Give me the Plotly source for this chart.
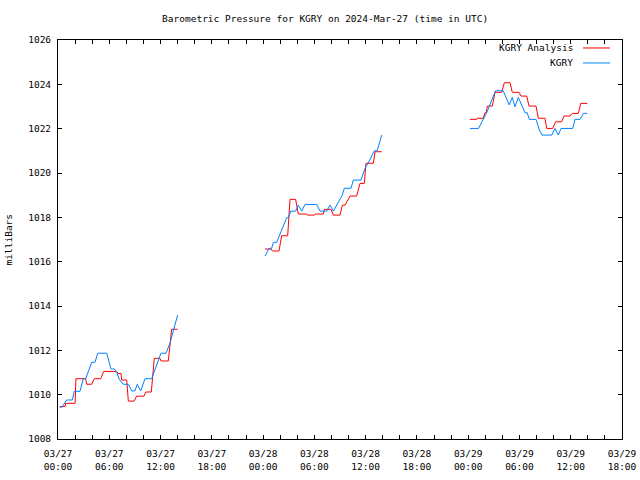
import pandas as pd
import plotly.graph_objects as go

BASE = pd.Timestamp("2024-03-27 00:00")

# KGRY Analysis (red), hours after 03/27 00:00 UTC; None = gap
analysis_hours = [0.2, 0.82, 0.9, 2.0, 2.1, 3.24, 3.35, 3.94, 4.25, 5.0, 5.35, 6.87, 7.0, 7.37, 7.45, 8.04,
                  8.23, 8.9, 9.2, 10.06, 10.26, 10.92, 11.27, 11.94, 12.05, 12.91, 13.3, 14.0, None,
                  24.22, 24.93, 25.1, 25.86, 26.17, 26.88, 27.15, 27.81, 28.12, 29.1, 29.2, 30.0, 30.1, 31.05,
                  31.17, 31.95, 32.22, 33.0, 33.28, 33.6, 34.17, 34.95, 35.34, 35.85, 36.04, 36.9, 37.1, 37.88, None,
                  48.2, 49.0, 49.05, 49.77, 49.97, 50.1, 50.25, 50.83, 51.14, 51.92, 52.23, 52.9, 53.16, 53.95,
                  54.18, 54.85, 55.12, 55.94, 56.21, 56.99, 57.19, 57.89, 58.24, 58.94, 59.22, 59.92, 60.19,
                  60.89, 61.17, 61.94]
analysis_mb = [1009.46, 1009.46, 1009.61, 1009.61, 1010.72, 1010.72, 1010.47, 1010.47, 1010.72, 1010.72,
               1011.05, 1011.05, 1010.96, 1010.96, 1010.66, 1010.66, 1009.71, 1009.71, 1009.93, 1009.93,
               1010.12, 1010.12, 1011.64, 1011.64, 1011.52, 1011.52, 1012.95, 1012.95, None,
               1016.57, 1016.57, 1016.48, 1016.48, 1017.17, 1017.17, 1018.81, 1018.81, 1018.15, 1018.15,
               1018.1, 1018.1, 1018.15, 1018.15, 1018.36, 1018.36, 1018.1, 1018.1, 1018.55, 1018.55,
               1018.96, 1018.96, 1019.53, 1019.53, 1020.44, 1020.44, 1020.96, 1020.96, None,
               1022.42, 1022.42, 1022.47, 1022.47, 1022.72, 1022.72, 1023.02, 1023.02, 1023.64, 1023.64,
               1024.07, 1024.07, 1023.64, 1023.64, 1023.47, 1023.47, 1023.02, 1023.02, 1022.47, 1022.47,
               1022.01, 1022.01, 1022.31, 1022.31, 1022.57, 1022.57, 1022.69, 1022.69, 1023.14, 1023.14]

# KGRY observed (blue)
obs_hours = [0.2, 0.5, 1.0, 1.67, 1.9, 2.57, 2.96, 3.24, 3.94, 4.33, 4.65, 5.7, 6.2, 6.59, 6.87, 7.14, 7.64,
             8.23, 8.62, 9.0, 9.28, 9.68, 10.18, 10.96, 12.05, 12.64, 13.1, 14.0, None,
             24.22, 24.69, 25.0, 25.2, 25.59, 26.76, 26.96, 27.23, 27.81, 28.12, 28.52, 28.9, 30.27, 30.66,
             31.44, 31.83, 32.22, 33.27, 33.5, 34.29, 34.56, 35.46, 35.93, 36.48, 37.0, 37.35, 37.88, None,
             48.2, 49.2, 50.17, 50.95, 51.2, 52.1, 52.8, 53.16, 53.48, 53.87, 54.65, 54.9, 55.16, 55.94,
             56.33, 56.64, 57.78, 58.16, 58.55, 58.86, 60.23, 60.5, 61.09, 61.48, 61.94]
obs_mb = [1009.43, 1009.45, 1009.76, 1009.76, 1010.15, 1010.15, 1010.72, 1010.72, 1011.46, 1011.46,
          1011.87, 1011.87, 1011.16, 1011.16, 1011.02, 1010.71, 1010.47, 1010.47, 1010.17, 1010.17,
          1010.47, 1010.17, 1010.72, 1010.72, 1011.87, 1011.87, 1012.32, 1013.59, None,
          1016.25, 1016.6, 1016.6, 1016.87, 1016.87, 1017.98, 1017.98, 1018.28, 1018.28, 1018.55,
          1018.28, 1018.58, 1018.58, 1018.28, 1018.28, 1018.55, 1018.28, 1019.0, 1019.31, 1019.31,
          1019.68, 1019.68, 1020.21, 1020.58, 1021.0, 1021.0, 1021.71, None,
          1022.01, 1022.01, 1022.72, 1023.52, 1023.71, 1023.71, 1023.07, 1023.41, 1022.99, 1023.41,
          1022.72, 1022.72, 1022.42, 1022.42, 1021.94, 1021.71, 1021.71, 1022.01, 1021.71, 1022.01,
          1022.01, 1022.42, 1022.42, 1022.69, 1022.69]

series_names = ["KGRY Analysis", "KGRY"]
series_colors = ["#ff0000", "#0080ff"]


def to_time(hours):
    return [None if h is None else BASE + pd.Timedelta(hours=h) for h in hours]


FONT = "DejaVu Sans Mono"
FS = 9.5
fig = go.Figure()
fig.add_trace(go.Scatter(x=to_time(analysis_hours), y=analysis_mb, mode="lines",
                         line=dict(color=series_colors[0], width=1), connectgaps=False,
                         name=series_names[0], showlegend=False))
fig.add_trace(go.Scatter(x=to_time(obs_hours), y=obs_mb, mode="lines",
                         line=dict(color=series_colors[1], width=1), connectgaps=False,
                         name=series_names[1], showlegend=False))

# gnuplot-style key: text right-aligned, sample line to the right
key_y = [0.98, 0.9424]
for name, color, ky in zip(series_names, series_colors, key_y):
    fig.add_annotation(x=0.9167, y=ky, xref="paper", yref="paper", text=name, showarrow=False,
                       xanchor="right", yanchor="middle", font=dict(family=FONT, size=FS, color="black"))
    fig.add_shape(type="line", xref="paper", yref="paper", x0=0.9309, x1=0.9787, y0=ky, y1=ky,
                  line=dict(color=color, width=1))

fig.add_annotation(x=-0.087, y=0.5, xref="paper", yref="paper", text="milliBars", textangle=-90,
                   showarrow=False, xanchor="center", yanchor="middle",
                   font=dict(family=FONT, size=FS, color="black"))

fig.update_layout(
    width=640, height=480,
    margin=dict(l=58, r=18, t=40, b=41, autoexpand=False),
    paper_bgcolor="white", plot_bgcolor="white",
    font=dict(family=FONT, size=FS, color="black"),
    title=dict(text="Barometric Pressure for KGRY on 2024-Mar-27 (time in UTC)", x=0.508, xref="container",
               y=1 - 19 / 480, yref="container", xanchor="center", yanchor="middle",
               font=dict(family=FONT, size=FS, color="black")),
    showlegend=False,
)
fig.update_xaxes(
    type="date", automargin=False,
    range=[BASE, BASE + pd.Timedelta(hours=66)],
    dtick=6 * 3600 * 1000, tick0=BASE, tickformat="%m/%d<br>%H:%M",
    ticks="inside", ticklen=4, tickcolor="black", ticklabelstandoff=6,
    minor=dict(dtick=2 * 3600 * 1000, ticks="inside", ticklen=4, tickcolor="black"),
    showline=True, linecolor="black", linewidth=1, mirror="allticks",
    showgrid=False, zeroline=False,
)
fig.update_yaxes(
    automargin=False,
    range=[1008, 1026], dtick=2, tick0=1008,
    ticks="inside", ticklen=4, tickcolor="black", ticklabelstandoff=4,
    showline=True, linecolor="black", linewidth=1, mirror="allticks",
    showgrid=False, zeroline=False,
)

fig.write_html("out.html")
